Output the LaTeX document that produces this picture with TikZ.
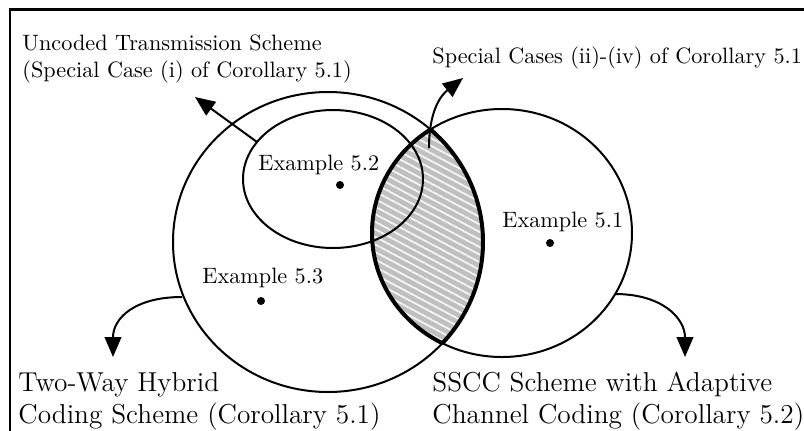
\documentclass[tikz,border=0pt]{standalone}
\usetikzlibrary{shapes.geometric,arrows.meta,patterns.meta}
\begin{document}
\begin{tikzpicture}[x=0.45pt,y=-0.45pt,
  setline/.style={draw, line width=0.9pt},
  setshape/.style={ellipse, setline, inner sep=0pt},
  lbl/.style={inner sep=0pt, font=\fontsize{10}{12}\selectfont},
  biglbl/.style={inner sep=0pt, align=left, font=\fontsize{12.3}{14.3}\selectfont},
  dotnode/.style={circle, fill=black, inner sep=0pt, minimum size=3.6pt},
  arr/.style={line width=0.9pt, -{Triangle[length=9pt,width=7.5pt]}}]
\useasboundingbox (0,0) rectangle (804,430);
\begin{scope}
\clip (0,0) rectangle (804,430);
\draw[line width=1pt] (10,9.5) rectangle (830,460);
\end{scope}
% lens (intersection)
\begin{scope}
\clip (328,242) ellipse [x radius=155, y radius=150];
\fill[gray!50] (502,233) ellipse [x radius=130, y radius=124];
\fill[pattern={Lines[angle=-28,distance=3pt,line width=0.8pt]}, pattern color=white!92!gray] (502,233) ellipse [x radius=130, y radius=124];
\draw[line width=1.8pt] (502,233) ellipse [x radius=130, y radius=124];
\end{scope}
\begin{scope}
\clip (502,233) ellipse [x radius=130, y radius=124];
\draw[line width=1.8pt] (328,242) ellipse [x radius=155, y radius=150];
\end{scope}
% sets
\node[setshape, minimum width=310*0.45pt, minimum height=300*0.45pt] (hyb) at (328,242) {};
\node[setshape, minimum width=260*0.45pt, minimum height=248*0.45pt] (sscc) at (502,233) {};
\node[setshape, minimum width=180*0.45pt, minimum height=138*0.45pt] (unc) at (333,179) {};
% examples
\node[dotnode] (d52) at (340,185) {};
\node[lbl, anchor=base west] (e52) at (258,170) {Example 5.2};
\node[dotnode] (d53) at (261,301) {};
\node[lbl, anchor=base west] (e53) at (202,283) {Example 5.3};
\node[dotnode] (d51) at (550,243) {};
\node[lbl, anchor=base west] (e51) at (502,227) {Example 5.1};
% labels
\node[lbl, anchor=north west, align=left] (tunc) at (22,34.5) {Uncoded Transmission Scheme\\(Special Case (i) of Corollary 5.1)};
\node[lbl, anchor=base west] (tspc) at (432,63) {Special Cases (ii)-(iv) of Corollary 5.1};
\node[biglbl, anchor=north west] (thyb) at (18,372) {Two-Way Hybrid\\Coding Scheme (Corollary 5.1)};
\node[biglbl, anchor=north west] (tssc) at (432,372) {SSCC Scheme with Adaptive\\Channel Coding (Corollary 5.2)};
% connector end points
\coordinate (a1s) at (257,142);
\coordinate (a1e) at (195,97);
\coordinate (a2s) at (429,148);
\coordinate (a2e) at (463,78);
\coordinate (a3s) at (182,297);
\coordinate (a3e) at (113,357);
\coordinate (a4s) at (615,294);
\coordinate (a4e) at (685,357);
\draw[arr] (a1s) -- (a1e);
\draw[arr] (a2s) .. controls (429,112) and (440,96) .. (a2e);
\draw[arr] (a3s) .. controls (135,297) and (113,318) .. (a3e);
\draw[arr] (a4s) .. controls (662,294) and (685,318) .. (a4e);
\end{tikzpicture}
\end{document}
